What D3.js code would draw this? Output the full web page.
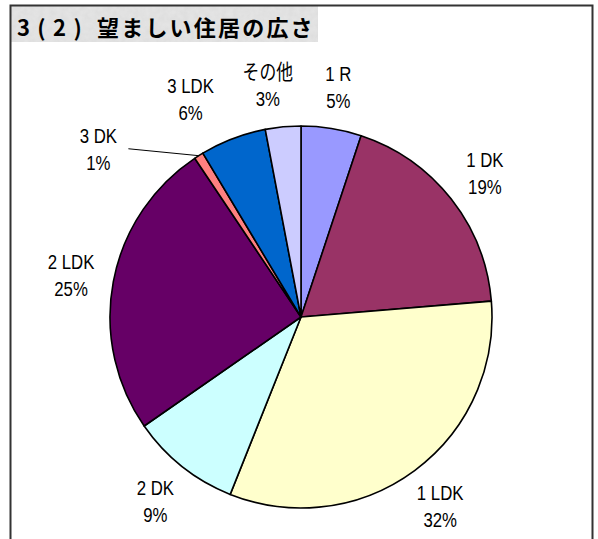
<!DOCTYPE html>
<html>
<head>
<meta charset="utf-8">
<script src="https://cdn.jsdelivr.net/npm/d3@7"></script>
<style>
  body { margin: 0; background: #fff; }
  svg { display: block; }
</style>
</head>
<body>
<div id="chart"></div>
<script>
let categories = ["1 R", "1 DK", "1 LDK", "2 DK", "2 LDK", "3 DK", "3 LDK", "その他"];
let shares = [5.1, 18.6, 32.4, 9.3, 25.3, 0.8, 5.6, 3.0];
let labels = ["5%", "19%", "32%", "9%", "25%", "1%", "6%", "3%"];
let colors = ["#9999ff", "#993366", "#ffffcc", "#ccffff", "#660066", "#ff8080", "#0066cc", "#ccccff"];
let titleNum = "3 ( 2 )";
let titleText = "望ましい住居の広さ";

let width = 598, height = 539;
let cx = 301, cy = 317, radius = 191;

let svg = d3.select("#chart").append("svg")
    .attr("width", width)
    .attr("height", height);

// textured title plate
let defs = svg.append("defs");
let filt = defs.append("filter").attr("id", "paper")
    .attr("x", 0).attr("y", 0).attr("width", 1).attr("height", 1);
filt.append("feTurbulence")
    .attr("type", "fractalNoise")
    .attr("baseFrequency", 0.18)
    .attr("numOctaves", 2)
    .attr("seed", 4)
    .attr("result", "noise");
filt.append("feColorMatrix")
    .attr("in", "noise")
    .attr("type", "matrix")
    .attr("values", "0 0 0 0 0.55  0 0 0 0 0.55  0 0 0 0 0.55  0 0 0 0.55 0")
    .attr("result", "tint");
filt.append("feComposite").attr("in", "tint").attr("in2", "SourceGraphic").attr("operator", "in");

svg.append("rect")
    .attr("x", 11).attr("y", 6)
    .attr("width", 307).attr("height", 36)
    .attr("fill", "#e6e6e6");
svg.append("rect")
    .attr("x", 11).attr("y", 6)
    .attr("width", 307).attr("height", 36)
    .attr("fill", "#e6e6e6")
    .attr("filter", "url(#paper)")
    .attr("opacity", 0.5);

let t = svg.append("text")
    .attr("y", 36)
    .attr("font-family", "'Noto Sans CJK JP', sans-serif")
    .attr("font-weight", "bold")
    .attr("font-size", 22)
    .attr("fill", "#000")
    .style("white-space", "pre");
t.append("tspan").attr("x", 17).attr("letter-spacing", 1.2).text(titleNum);
t.append("tspan").attr("x", 97).attr("letter-spacing", 2.2).text(titleText);

// frame
svg.append("path")
    .attr("d", `M10.5,${height} V5.5 H592.5 V${height}`)
    .attr("fill", "none")
    .attr("stroke", "#333")
    .attr("stroke-width", 2);

let data = categories.map((c, i) => ({name: c, value: shares[i], label: labels[i], color: colors[i]}));

let pie = d3.pie().sort(null).value(d => d.value);
let arcs = pie(data);

let arc = d3.arc().innerRadius(0).outerRadius(radius);
let labelArc = d3.arc().innerRadius(234).outerRadius(234);

let g = svg.append("g").attr("transform", `translate(${cx},${cy})`);

g.selectAll("path.slice")
    .data(arcs)
    .join("path")
    .attr("class", "slice")
    .attr("d", arc)
    .attr("fill", d => d.data.color)
    .attr("stroke", "#000")
    .attr("stroke-width", 1.6)
    .attr("stroke-linejoin", "round");

function labelPos(d) {
    if (d.data.value < 2) {
        // tiny slice: label pushed out with a leader line
        let mid = (d.startAngle + d.endAngle) / 2 - 0.31;
        let r = 264;
        return [r * Math.sin(mid), -r * Math.cos(mid)];
    }
    let [x, y] = labelArc.centroid(d);
    // labels crowded near the top get nudged apart like the original
    if (y < -200 && x < 0) x -= 5.5 + 0.26 * (-x);
    return [x, y];
}

let leaders = arcs.filter(d => d.data.value < 2);
g.selectAll("path.leader")
    .data(leaders)
    .join("path")
    .attr("class", "leader")
    .attr("fill", "none")
    .attr("stroke", "#000")
    .attr("stroke-width", 1)
    .attr("d", d => {
        let mid = (d.startAngle + d.endAngle) / 2;
        let p0 = [radius * Math.sin(mid), -radius * Math.cos(mid)];
        let [lx, ly] = labelPos(d);
        return d3.line()([[lx + 30, ly + 1], p0]);
    });

let lbl = g.selectAll("text.lbl")
    .data(arcs)
    .join("text")
    .attr("class", "lbl")
    .attr("text-anchor", "middle")
    .attr("font-family", "'Liberation Sans', Arial, sans-serif")
    .attr("font-size", 21)
    .attr("fill", "#000")
    .attr("transform", d => `translate(${labelPos(d)}) scale(0.8,1)`);

lbl.append("tspan")
    .attr("x", 0).attr("y", -5)
    .style("font-family", d => /[^\x00-\x7f]/.test(d.data.name) ? "'Noto Sans CJK JP', sans-serif" : null)
    .text(d => d.data.name);
lbl.append("tspan")
    .attr("x", 0).attr("y", 22)
    .text(d => d.data.label);
</script>
</body>
</html>
